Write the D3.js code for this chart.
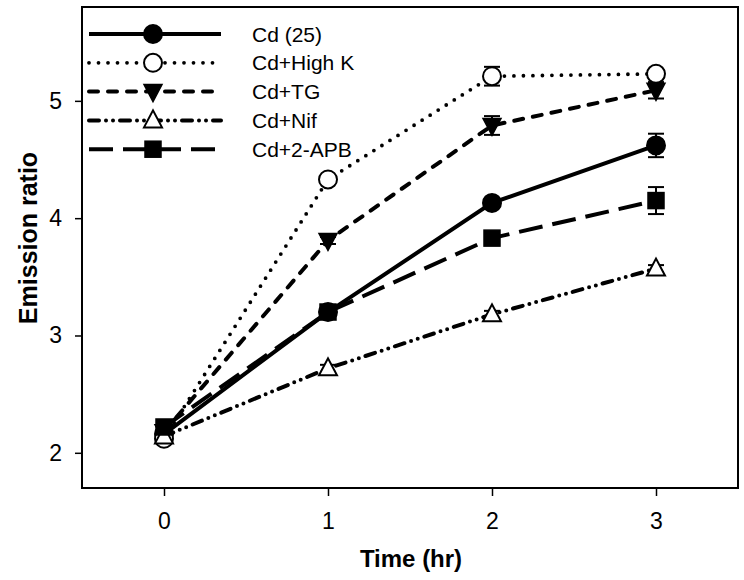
<!DOCTYPE html>
<html><head><meta charset="utf-8">
<script src="https://cdn.jsdelivr.net/npm/d3@7"></script>
<style>body{margin:0;background:#fff}svg{display:block}</style>
</head><body>
<script>
const times = [0, 1, 2, 3];
const xTickLabels = ["0", "1", "2", "3"];
const yTickValues = [2, 3, 4, 5];
const seriesNames = ["Cd (25)", "Cd+High K", "Cd+TG", "Cd+Nif", "Cd+2-APB"];
const cdValues   = [2.16, 3.20, 4.13, 4.62];
const cdErrors   = [0.03, 0.03, 0.03, 0.10];
const highKValues = [2.12, 4.33, 5.21, 5.23];
const highKErrors = [0.04, 0.03, 0.08, 0.04];
const tgValues   = [2.18, 3.81, 4.79, 5.09];
const tgErrors   = [0.03, 0.03, 0.08, 0.07];
const nifValues  = [2.14, 2.72, 3.18, 3.57];
const nifErrors  = [0.02, 0.03, 0.03, 0.03];
const apbValues  = [2.22, 3.20, 3.83, 4.15];
const apbErrors  = [0.03, 0.03, 0.03, 0.115];

const W = 744, H = 580;
const mLeft = 82, mRight = 738, mTop = 7, mBottom = 488;
const x = d3.scaleLinear().domain([-0.5, 3.5]).range([mLeft, mRight]);
const y = d3.scaleLinear().domain([1.7, 5.8]).range([mBottom, mTop]);

const styles = [
  {marker: "circle", fill: "#000", dash: null, cap: "butt", width: 4},
  {marker: "circle", fill: "#fff", dash: "0 9.5", cap: "round", width: 3.8},
  {marker: "down", fill: "#000", dash: "9 10", cap: "round", width: 4},
  {marker: "up", fill: "#fff", dash: "10 7 0 7 0 7", cap: "round", width: 4},
  {marker: "square", fill: "#000", dash: "24 10", cap: "butt", width: 4}
];
const series = [
  {values: cdValues, errors: cdErrors},
  {values: highKValues, errors: highKErrors},
  {values: tgValues, errors: tgErrors},
  {values: nifValues, errors: nifErrors},
  {values: apbValues, errors: apbErrors}
];

const svg = d3.select("body").append("svg").attr("width", W).attr("height", H)
  .style("font-family", "Arial, 'Liberation Sans', sans-serif");

const xAxis = d3.axisBottom(x).tickValues(times).tickFormat((d,i)=>xTickLabels[i]).tickSize(8).tickPadding(17);
const gx = svg.append("g").attr("transform", `translate(0,${mBottom})`).call(xAxis);
gx.select(".domain").remove();
gx.selectAll("line").attr("stroke", "#000").attr("stroke-width", 1.5);
gx.selectAll("text").attr("font-size", 23).attr("fill", "#000");

const yAxis = d3.axisLeft(y).tickValues(yTickValues).tickFormat(d3.format("d")).tickSize(7).tickPadding(13);
const gy = svg.append("g").attr("transform", `translate(${mLeft},0)`).call(yAxis);
gy.select(".domain").remove();
gy.selectAll("line").attr("stroke", "#000").attr("stroke-width", 1.5);
gy.selectAll("text").attr("font-size", 23).attr("fill", "#000");

svg.append("rect").attr("x", mLeft).attr("y", mTop).attr("width", mRight-mLeft).attr("height", mBottom-mTop)
  .attr("fill", "none").attr("stroke", "#000").attr("stroke-width", 2);

svg.append("text").attr("x", 411).attr("y", 567).attr("text-anchor", "middle")
  .attr("font-size", 24).attr("font-weight", "bold").text("Time (hr)");
svg.append("text").attr("transform", `translate(37,238) rotate(-90)`).attr("text-anchor", "middle")
  .attr("font-size", 25).attr("font-weight", "bold").text("Emission ratio");

function drawMarker(g, type, fill, cx, cy) {
  if (type === "circle") {
    g.append("circle").attr("cx", cx).attr("cy", cy).attr("r", 9)
      .attr("fill", fill).attr("stroke", "#000").attr("stroke-width", 2);
  } else if (type === "square") {
    g.append("rect").attr("x", cx-8).attr("y", cy-8).attr("width", 16).attr("height", 16)
      .attr("fill", fill).attr("stroke", "#000").attr("stroke-width", 1.5);
  } else if (type === "down") {
    g.append("path").attr("d", `M${cx-9},${cy-7}L${cx+9},${cy-7}L${cx},${cy+10}Z`)
      .attr("fill", fill).attr("stroke", "#000").attr("stroke-width", 1.5);
  } else if (type === "up") {
    g.append("path").attr("d", `M${cx-9},${cy+7}L${cx+9},${cy+7}L${cx},${cy-10}Z`)
      .attr("fill", fill).attr("stroke", "#000").attr("stroke-width", 2);
  }
}

const line = d3.line().x((d,i)=>x(times[i])).y(d=>y(d));
const plot = svg.append("g");
series.forEach((s, k) => {
  const st = styles[k];
  plot.append("path").datum(s.values).attr("d", line).attr("fill", "none")
    .attr("stroke", "#000").attr("stroke-width", st.width)
    .attr("stroke-dasharray", st.dash).attr("stroke-linecap", st.cap);
});
series.forEach((s, k) => {
  s.values.forEach((v, i) => {
    const cx = x(times[i]);
    const y1 = y(v + s.errors[i]), y2 = y(v - s.errors[i]);
    const g = plot.append("g").attr("stroke", "#000").attr("stroke-width", 2);
    g.append("line").attr("x1", cx).attr("x2", cx).attr("y1", y1).attr("y2", y2);
    g.append("line").attr("x1", cx-8).attr("x2", cx+8).attr("y1", y1).attr("y2", y1);
    g.append("line").attr("x1", cx-8).attr("x2", cx+8).attr("y1", y2).attr("y2", y2);
  });
});
series.forEach((s, k) => {
  const st = styles[k];
  s.values.forEach((v, i) => drawMarker(plot, st.marker, st.fill, x(times[i]), y(v)));
});

const legend = svg.append("g");
seriesNames.forEach((name, k) => {
  const st = styles[k];
  const ly = 34 + k * 28.8;
  legend.append("line").attr("x1", 89).attr("x2", 221).attr("y1", ly).attr("y2", ly)
    .attr("stroke", "#000").attr("stroke-width", st.width)
    .attr("stroke-dasharray", st.dash).attr("stroke-linecap", st.cap);
  drawMarker(legend, st.marker, st.fill, 153, ly);
  legend.append("text").attr("x", 252).attr("y", ly + 7.5).attr("font-size", 21).text(name);
});
</script>
</body></html>
